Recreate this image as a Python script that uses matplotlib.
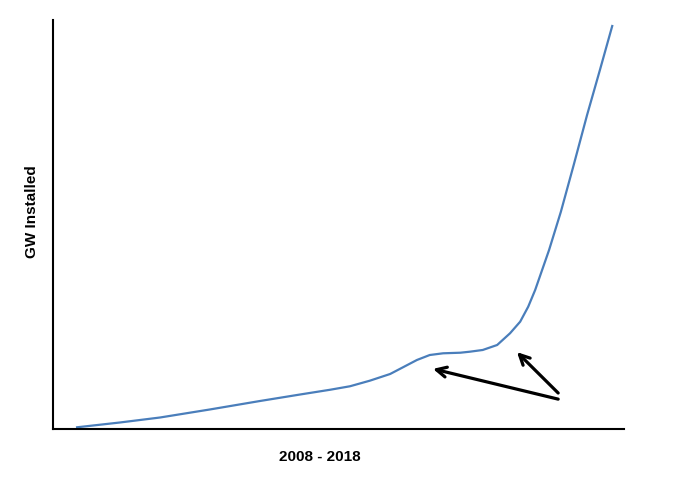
import matplotlib
matplotlib.use("AGG")
import matplotlib.pyplot as plt

# values (year, GW installed, arbitrary scale 0-100)
years = [2008.00, 2008.80, 2009.55, 2010.48, 2011.42, 2012.17, 2012.73, 2013.10, 2013.47, 2013.85,
         2014.09, 2014.35, 2014.59, 2014.84, 2015.16, 2015.34, 2015.58, 2015.85, 2016.09,
         2016.28, 2016.43, 2016.56, 2016.82, 2017.04, 2017.28, 2017.53, 2017.77, 2018.00]
gw = [0.42, 1.59, 2.81, 4.77, 6.85, 8.44, 9.60, 10.45, 11.81, 13.45,
      15.09, 16.87, 18.09, 18.51, 18.65, 18.90, 19.32, 20.54, 23.40,
      26.24, 29.90, 33.99, 43.77, 53.10, 64.55, 76.77, 87.78, 98.53]

# arrows: (tail x, tail y, head x, head y)
arrows = [(2016.99, 7.3, 2014.65, 14.7),
          (2016.99, 8.8, 2016.22, 18.8)]

plt.rcParams['font.family'] = ['Liberation Sans', 'DejaVu Sans']

fig = plt.figure(figsize=(6.82, 4.79), dpi=100)
ax = fig.add_axes([53/682, 50/479, 571/682, 409/479])

ax.plot(years, gw, color='#4A7EBB', lw=1.6, solid_joinstyle='round')

for x0, y0, x1, y1 in arrows:
    ax.annotate('', xy=(x1, y1), xytext=(x0, y0),
                arrowprops=dict(arrowstyle='->', color='black', lw=2.3,
                                mutation_scale=18, shrinkA=0, shrinkB=0))

ax.set_xlim(2007.55, 2018.22)
ax.set_ylim(0, 100)
ax.set_xticks([])
ax.set_yticks([])

for s in ['top', 'right']:
    ax.spines[s].set_visible(False)
for s in ['left', 'bottom']:
    ax.spines[s].set_linewidth(1.5)
    ax.spines[s].set_color('black')

ax.set_xlabel('2008 - 2018', fontsize=11, fontweight='bold')
ax.xaxis.label.set_va('center')
ax.xaxis.set_label_coords(0.4676, -0.0685)
ax.set_ylabel('GW Installed', fontsize=11, fontweight='bold')
ax.yaxis.label.set_va('center')
ax.yaxis.set_label_coords(-0.0368, 0.5306)

fig.savefig('out.png', dpi=100)
